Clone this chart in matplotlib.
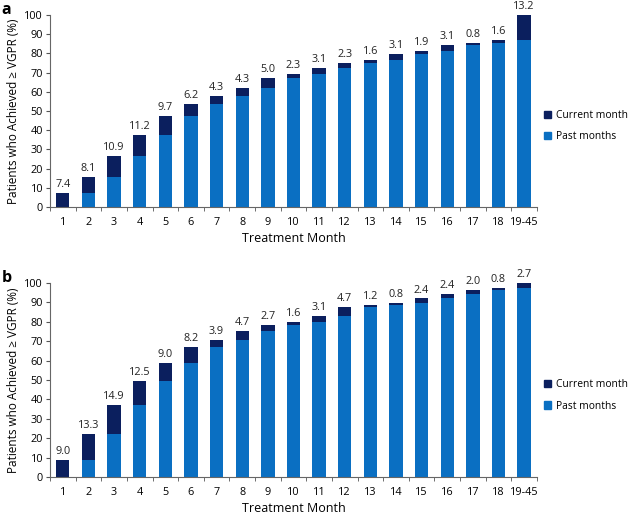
import matplotlib
matplotlib.use("Agg")
import matplotlib.pyplot as plt
import numpy as np
from matplotlib.patches import Patch

months = ["1", "2", "3", "4", "5", "6", "7", "8", "9", "10", "11", "12", "13", "14", "15", "16", "17", "18", "19-45"]

current_a = [7.4, 8.1, 10.9, 11.2, 9.7, 6.2, 4.3, 4.3, 5.0, 2.3, 3.1, 2.3, 1.6, 3.1, 1.9, 3.1, 0.8, 1.6, 13.2]
past_a = [0.0, 7.4, 15.5, 26.4, 37.6, 47.3, 53.5, 57.8, 62.1, 67.1, 69.4, 72.5, 74.8, 76.4, 79.5, 81.4, 84.5, 85.3, 86.9]

current_b = [9.0, 13.3, 14.9, 12.5, 9.0, 8.2, 3.9, 4.7, 2.7, 1.6, 3.1, 4.7, 1.2, 0.8, 2.4, 2.4, 2.0, 0.8, 2.7]
past_b = [0.0, 9.0, 22.3, 37.2, 49.7, 58.7, 66.9, 70.8, 75.5, 78.2, 79.8, 82.9, 87.6, 88.8, 89.6, 92.0, 94.4, 96.4, 97.2]

DARK = "#0b1f5e"
BLUE = "#0a6fc2"
plt.rcParams['font.family'] = ['Open Sans', 'DejaVu Sans']

fig = plt.figure(figsize=(6.34, 5.16), dpi=100)
ax_a = fig.add_axes([0.0789, 0.599, 0.768, 0.372])
ax_b = fig.add_axes([0.0789, 0.0756, 0.768, 0.376])

for ax, cur, past, letter in [(ax_a, current_a, past_a, "a"), (ax_b, current_b, past_b, "b")]:
    x = np.arange(len(months))
    ax.bar(x, past, width=0.52, color=BLUE, label="Past months", zorder=2)
    ax.bar(x, cur, width=0.52, bottom=past, color=DARK, label="Current month", zorder=2)
    for xi, p, c in zip(x, past, cur):
        ax.text(xi, p + c + 1.5, f"{c:.1f}", ha="center", va="bottom", fontsize=7.8, color="#222222")
    ax.set_xlim(-0.5, len(months) - 0.5)
    ax.set_ylim(0, 100)
    ax.set_yticks(np.arange(0, 101, 10))
    ax.set_xticks(x)
    ax.set_xticklabels(months, fontsize=7.8)
    ax.set_xticks(np.arange(-0.5, len(months), 1.0), minor=True)
    ax.tick_params(axis="x", which="major", length=0, pad=7)
    ax.tick_params(axis="x", which="minor", length=3, direction="out", color="#555555")
    ax.tick_params(axis="y", length=3, direction="out", labelsize=7.8, color="#555555", pad=2)
    for s in ["top", "right"]:
        ax.spines[s].set_visible(False)
    for s in ["left", "bottom"]:
        ax.spines[s].set_color("#666666")
        ax.spines[s].set_linewidth(0.8)
    ax.set_xlabel("Treatment Month", fontsize=9, labelpad=3)
    ax.set_ylabel("Patients who Achieved \u2265 VGPR (%)", fontsize=8.5, labelpad=3)
    handles = [Patch(color=DARK, label="Current month"), Patch(color=BLUE, label="Past months")]
    ax.legend(handles=handles, loc="center left", bbox_to_anchor=(1.0, 0.42), frameon=False,
              fontsize=7.4, handlelength=0.7, handleheight=0.7, handletextpad=0.5,
              labelspacing=1.0, borderaxespad=0.3)
    ax.text(-0.1, 0.985, letter, transform=ax.transAxes, fontsize=11.5, fontweight="bold",
            ha="left", va="bottom")

fig.savefig("out.png", dpi=100)
